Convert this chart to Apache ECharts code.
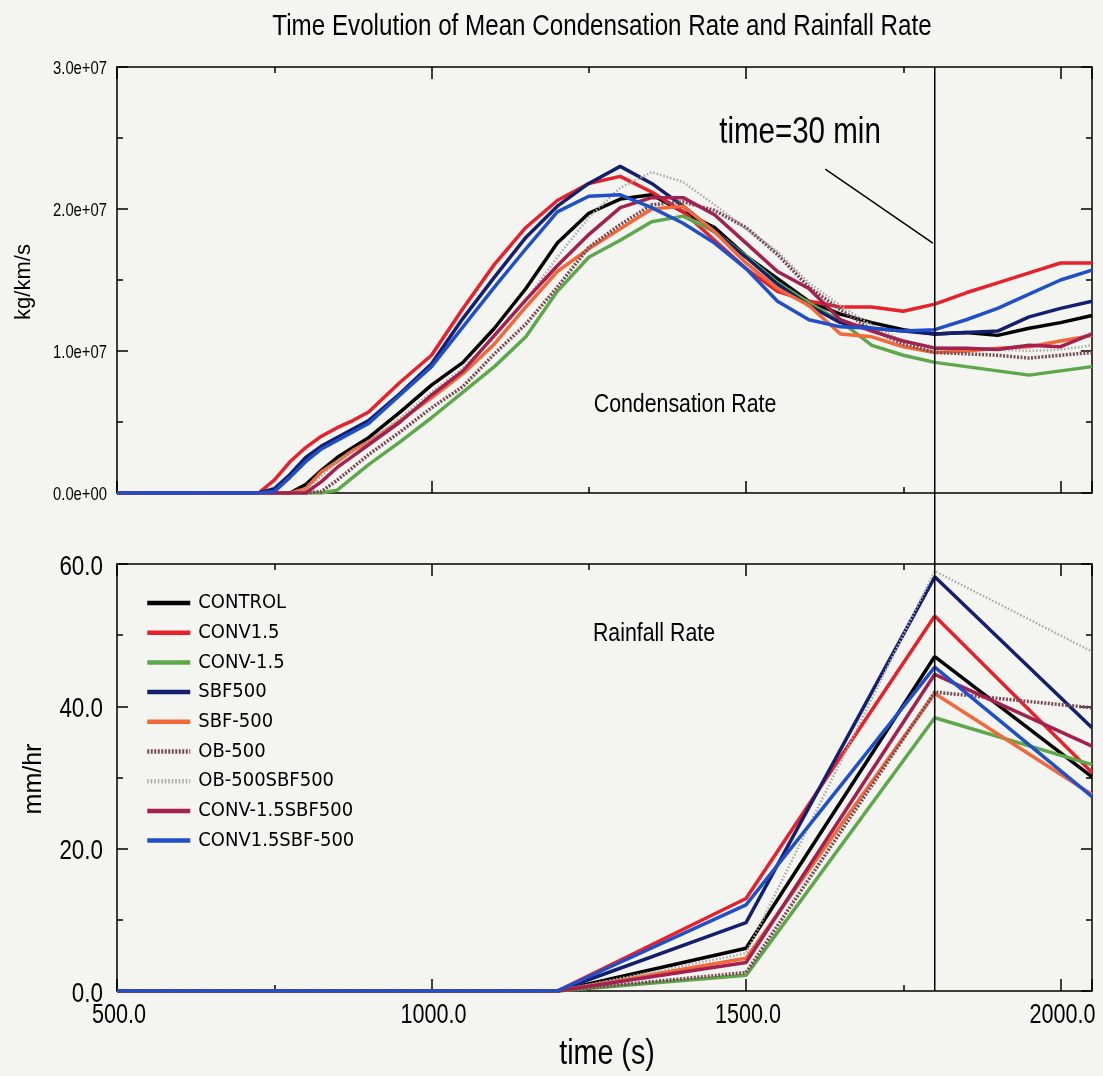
<!DOCTYPE html>
<html><head><meta charset="utf-8">
<script src="https://cdn.jsdelivr.net/npm/echarts@6/dist/echarts.min.js"></script>
<style>html,body{margin:0;padding:0;background:#f4f5f0}#chart{width:1103px;height:1076px}</style>
</head><body><div id="chart"></div>
<script>
// ---------- DATA ----------
const SERIES_NAMES = ['CONTROL','CONV1.5','CONV-1.5','SBF500','SBF-500','OB-500','OB-500SBF500','CONV-1.5SBF500','CONV1.5SBF-500'];

// Condensation rate (units: 1e6 kg/km/s) sampled at these times (s)
const COND_TIME = [500,700,725,750,775,800,825,850,875,900,950,1000,1050,1100,1150,1200,1250,1300,1350,1400,1450,1500,1550,1600,1650,1700,1750,1800,1850,1900,1950,2000,2050];
const COND_CONTROL        = [0,0,0,0,0,0.6,1.6,2.5,3.2,3.9,5.7,7.6,9.2,11.6,14.4,17.6,19.7,20.7,21.0,19.8,18.7,16.7,15.1,13.5,12.6,12.0,11.5,11.2,11.3,11.1,11.6,12.0,12.5];
const COND_CONV15         = [0,0,0,0.9,2.2,3.2,4.0,4.6,5.1,5.7,7.8,9.7,13.0,16.1,18.7,20.6,21.8,22.3,21.2,19.8,17.8,15.8,14.2,13.5,13.1,13.1,12.8,13.3,14.1,14.8,15.5,16.2,16.2];
const COND_CONVm15        = [0,0,0,0,0,0,0,0.2,1.1,2.0,3.6,5.3,7.1,8.9,11.0,14.2,16.6,17.8,19.1,19.5,18.4,16.7,14.8,13.4,12.1,10.4,9.7,9.2,8.9,8.6,8.3,8.6,8.9];
const COND_SBF500         = [0,0,0,0.3,1.3,2.5,3.3,3.9,4.5,5.1,7.0,9.1,12.3,15.2,18.0,20.2,21.8,23.0,21.8,20.2,18.4,16.6,14.7,13.2,12.0,11.6,11.4,11.2,11.3,11.4,12.4,13.0,13.5];
const COND_SBFm500        = [0,0,0,0,0,0.3,1.5,2.2,3.0,3.6,5.1,6.7,8.4,10.5,13.1,15.6,17.2,18.6,20.0,20.2,18.4,16.2,14.4,13.2,11.2,11.0,10.3,9.9,10.0,10.2,10.3,10.7,11.1];
const COND_OBm500         = [0,0,0,0,0,0,0.1,0.9,1.8,2.7,4.3,6.0,7.5,9.8,11.9,14.5,17.3,18.9,20.3,20.5,19.9,18.7,16.8,14.5,12.9,11.5,10.5,9.9,9.8,9.7,9.5,9.7,9.9];
const COND_OBm500SBF500   = [0,0,0,0,0,0.2,1.2,2.2,2.9,3.6,5.3,7.1,8.8,11.0,13.6,16.6,19.4,21.5,22.6,21.9,20.3,18.6,17.0,14.8,13.2,11.8,10.7,10.3,10.2,10.1,10.0,10.1,10.4];
const COND_CONVm15SBF500  = [0,0,0,0,0,0,0.8,1.8,2.6,3.4,5.0,6.9,8.6,11.1,13.6,16.0,18.2,20.1,20.8,20.8,19.6,17.6,15.6,14.4,12.2,11.4,10.7,10.2,10.2,10.1,10.4,10.3,11.2];
const COND_CONV15SBFm500  = [0,0,0,0.1,1.1,2.2,3.1,3.7,4.3,4.9,6.9,8.9,11.7,14.5,17.2,19.8,20.9,21.0,20.1,19.0,17.6,15.8,13.5,12.2,11.7,11.6,11.4,11.5,12.2,13.0,14.0,15.0,15.7];

// Rainfall rate (mm/hr)
const RAIN_TIME = [500,1200,1500,1800,2050];
const RAIN_CONTROL        = [0,0,6.0,47.0,30.1];
const RAIN_CONV15         = [0,0,13.0,52.7,30.7];
const RAIN_CONVm15        = [0,0,2.2,38.4,31.8];
const RAIN_SBF500         = [0,0,9.6,58.2,37.0];
const RAIN_SBFm500        = [0,0,4.6,41.8,27.6];
const RAIN_OBm500         = [0,0,2.6,42.0,39.8];
const RAIN_OBm500SBF500   = [0,0,5.3,59.0,47.7];
const RAIN_CONVm15SBF500  = [0,0,4.0,44.5,34.4];
const RAIN_CONV15SBFm500  = [0,0,12.1,45.5,27.3];

const COND_VALUES = [COND_CONTROL,COND_CONV15,COND_CONVm15,COND_SBF500,COND_SBFm500,COND_OBm500,COND_OBm500SBF500,COND_CONVm15SBF500,COND_CONV15SBFm500];
const RAIN_VALUES = [RAIN_CONTROL,RAIN_CONV15,RAIN_CONVm15,RAIN_SBF500,RAIN_SBFm500,RAIN_OBm500,RAIN_OBm500SBF500,RAIN_CONVm15SBF500,RAIN_CONV15SBFm500];

// tick labels
const X_TICK_LABELS = [500, 1000, 1500, 2000];
const COND_TICK_LABELS = [0, 1e7, 2e7, 3e7];
const RAIN_TICK_LABELS = [0, 20, 40, 60];
const X_TICKS_MAJOR = 500, X_TICKS_MINOR = 250;
const MARK_TIME = 1800; // time = 30 min
const POINTER_LINE = [[1626, 22.8e6], [1797, 17.6e6]];

// ---------- STYLE ----------
const COLORS = ['#000000','#e8202a','#5da84a','#14206e','#f2683a','#7a4a57','#a9a9a9','#a3204f','#1f4fc9'];
const DASHES = ['solid','solid','solid','solid','solid',[2,1.5],[1.5,2],'solid','solid'];
const WIDTHS = [3.5,3.5,3.5,3.5,3.5,3.5,2.5,3.5,3.5];
const CONDENSED = "'DejaVu Sans Condensed','Liberation Sans',sans-serif";
const HELV = "'Liberation Sans',Arial,sans-serif";
const BLACK = '#000';

const chart = echarts.init(document.getElementById('chart'), null, {renderer: 'canvas'});

function xAxis(grid, pos, interval, tickLen, showLine) {
  return {
    type: 'value', gridIndex: grid, position: pos, min: 500, max: 2050, interval: interval,
    axisLine: {show: showLine, onZero: false, lineStyle: {color: BLACK, width: 1.5}},
    axisTick: {show: true, inside: true, length: tickLen, lineStyle: {color: BLACK, width: 1.5}},
    axisLabel: {show: false},
    splitLine: {show: false}
  };
}
function yAxis(grid, pos, max, interval) {
  return {
    type: 'value', gridIndex: grid, position: pos, min: 0, max: max, interval: interval,
    axisLine: {show: true, onZero: false, lineStyle: {color: BLACK, width: 1.5}},
    axisTick: {show: true, inside: true, length: 11, lineStyle: {color: BLACK, width: 1.5}},
    minorTick: {show: true, splitNumber: 2, length: 6, lineStyle: {color: BLACK, width: 1.5}},
    axisLabel: {show: false},
    splitLine: {show: false}, minorSplitLine: {show: false}
  };
}
const fmtCond = v => (v === 0 ? '0.0e+00' : (v / 1e7).toFixed(1) + 'e+07');
const fmtRain = v => v.toFixed(1);

const series = [];
SERIES_NAMES.forEach((name, i) => {
  const s = {
    type: 'line', name: name, xAxisIndex: 0, yAxisIndex: 0,
    data: COND_TIME.map((t, j) => [t, COND_VALUES[i][j] * 1e6]),
    showSymbol: false, symbol: 'none', animation: false, z: 2 + i,
    lineStyle: {color: COLORS[i], width: WIDTHS[i], type: DASHES[i]},
    itemStyle: {color: COLORS[i]}
  };
  if (i === 0) {
    s.markLine = {silent: true, symbol: ['none', 'none'], animation: false, label: {show: false},
      lineStyle: {color: BLACK, width: 1.5, type: 'solid'},
      data: [[{coord: POINTER_LINE[0]}, {coord: POINTER_LINE[1]}]]};
  }
  series.push(s);
});
SERIES_NAMES.forEach((name, i) => {
  series.push({
    type: 'line', name: name, xAxisIndex: 4, yAxisIndex: 2,
    data: RAIN_TIME.map((t, j) => [t, RAIN_VALUES[i][j]]),
    showSymbol: false, symbol: 'none', animation: false, z: 2 + i,
    lineStyle: {color: COLORS[i], width: WIDTHS[i], type: DASHES[i]},
    itemStyle: {color: COLORS[i]}
  });
});

const option = {
  backgroundColor: '#f4f5f0',
  animation: false,
  grid: [
    {left: 117, top: 67, width: 975, height: 426},
    {left: 117, top: 564, width: 975, height: 427}
  ],
  xAxis: [
    xAxis(0, 'bottom', X_TICKS_MAJOR, 12, true),
    xAxis(0, 'bottom', X_TICKS_MINOR, 6, false),
    xAxis(0, 'top', X_TICKS_MAJOR, 12, true),
    xAxis(0, 'top', X_TICKS_MINOR, 6, false),
    xAxis(1, 'bottom', X_TICKS_MAJOR, 12, true),
    xAxis(1, 'bottom', X_TICKS_MINOR, 6, false),
    xAxis(1, 'top', X_TICKS_MAJOR, 12, true),
    xAxis(1, 'top', X_TICKS_MINOR, 6, false)
  ],
  yAxis: [
    yAxis(0, 'left', 3e7, 1e7),
    yAxis(0, 'right', 3e7, 1e7),
    yAxis(1, 'left', 60, 20),
    yAxis(1, 'right', 60, 20)
  ],
  legend: {
    orient: 'vertical', left: 145, top: 592, padding: 0,
    itemWidth: 43, itemHeight: 14, itemGap: 7.7,
    data: SERIES_NAMES,
    itemStyle: {opacity: 0, borderWidth: 0},
    lineStyle: {width: 4.5},
    textStyle: {color: BLACK, fontSize: 20, fontFamily: CONDENSED, lineHeight: 22, padding: [0, 0, 0, 3]},
    selectedMode: false
  },
  series: series
};
chart.setOption(option);

function txt(x, y, text, size, opts) {
  opts = opts || {};
  return {type: 'text', x: x, y: y, rotation: opts.rot || 0, scaleX: opts.sx || 1, z: 100,
    style: {text: text, fill: BLACK, fontSize: size, fontFamily: opts.family || HELV,
      textAlign: opts.align || 'center', textVerticalAlign: 'middle'}};
}

// vertical marker at time = 30 min spanning both panels, placed through the axes' scales
const pTop = chart.convertToPixel({xAxisIndex: 0, yAxisIndex: 0}, [MARK_TIME, 3e7]);
const pBot = chart.convertToPixel({xAxisIndex: 4, yAxisIndex: 2}, [MARK_TIME, 0]);

const graphics = [
  {type: 'line', z: 50, shape: {x1: pTop[0], y1: pTop[1], x2: pBot[0], y2: pBot[1]}, style: {stroke: BLACK, lineWidth: 1.5}},
  txt(602, 27, 'Time Evolution of Mean Condensation Rate and Rainfall Rate', 29.5, {sx: 0.82}),
  txt(24, 282, 'kg/km/s', 22, {rot: Math.PI / 2}),
  txt(34, 779, 'mm/hr', 25, {rot: Math.PI / 2}),
  txt(607, 1054, 'time (s)', 35, {sx: 0.82}),
  txt(800, 133, 'time=30 min', 36, {sx: 0.82}),
  txt(685, 405, 'Condensation Rate', 26, {sx: 0.82}),
  txt(654, 634, 'Rainfall Rate', 26, {sx: 0.82})
];
// tick labels placed through the axes' scales
X_TICK_LABELS.forEach(v => {
  const px = chart.convertToPixel({xAxisIndex: 4}, v);
  const py = chart.convertToPixel({yAxisIndex: 2}, 0);
  graphics.push(txt(px + 2, py + 25, v.toFixed(1), 27, {sx: 0.8}));
});
COND_TICK_LABELS.forEach(v => {
  const px = chart.convertToPixel({xAxisIndex: 0}, 500);
  const py = chart.convertToPixel({yAxisIndex: 0}, v);
  graphics.push(txt(px - 10, py + 2, fmtCond(v), 19, {sx: 0.78, align: 'right'}));
});
RAIN_TICK_LABELS.forEach(v => {
  const px = chart.convertToPixel({xAxisIndex: 4}, 500);
  const py = chart.convertToPixel({yAxisIndex: 2}, v);
  graphics.push(txt(px - 14, py + 3, fmtRain(v), 28, {sx: 0.8, align: 'right'}));
});
chart.setOption({graphic: graphics});
</script></body></html>
